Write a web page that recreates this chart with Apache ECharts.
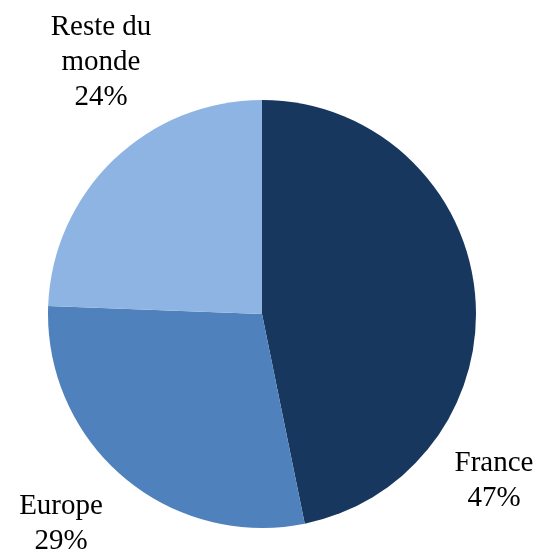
<!DOCTYPE html>
<html>
<head>
<meta charset="utf-8">
<script src="https://cdn.jsdelivr.net/npm/echarts@6/dist/echarts.min.js"></script>
<style>
  html, body { margin: 0; padding: 0; background: #fff; }
  #chart { width: 541px; height: 554px; }
</style>
</head>
<body>
<div id="chart"></div>
<script>
const categories = ['France', 'Europe', 'Reste du monde'];
const values = [46.8, 28.8, 24.4];
const labelTexts = ['France', 'Europe', 'Reste du\nmonde'];

const colors = ['#17375E', '#4F81BD', '#8EB4E3'];
// label block centres, in pixels
const labelCentres = [[494, 481], [61, 524], [101, 62]];

const chart = echarts.init(document.getElementById('chart'), null, { renderer: 'canvas' });

chart.setOption({
  animation: false,
  backgroundColor: '#ffffff',
  series: [{
    type: 'pie',
    center: [262, 314],
    radius: 214,
    startAngle: 90,
    clockwise: true,
    avoidLabelOverlap: false,
    itemStyle: { borderWidth: 0 },
    emphasis: { disabled: true },
    label: {
      show: true,
      position: 'outside',
      fontFamily: 'Liberation Serif',
      fontSize: 29,
      lineHeight: 35,
      color: '#000',
      align: 'center',
      formatter: p => labelTexts[p.dataIndex] + '\n' + Math.round(p.value) + '%'
    },
    labelLine: { show: false },
    labelLayout: p => ({
      x: labelCentres[p.dataIndex][0],
      y: labelCentres[p.dataIndex][1],
      align: 'center',
      verticalAlign: 'middle'
    }),
    data: categories.map((name, i) => ({
      name: name,
      value: values[i],
      itemStyle: { color: colors[i] }
    }))
  }]
});
</script>
</body>
</html>
